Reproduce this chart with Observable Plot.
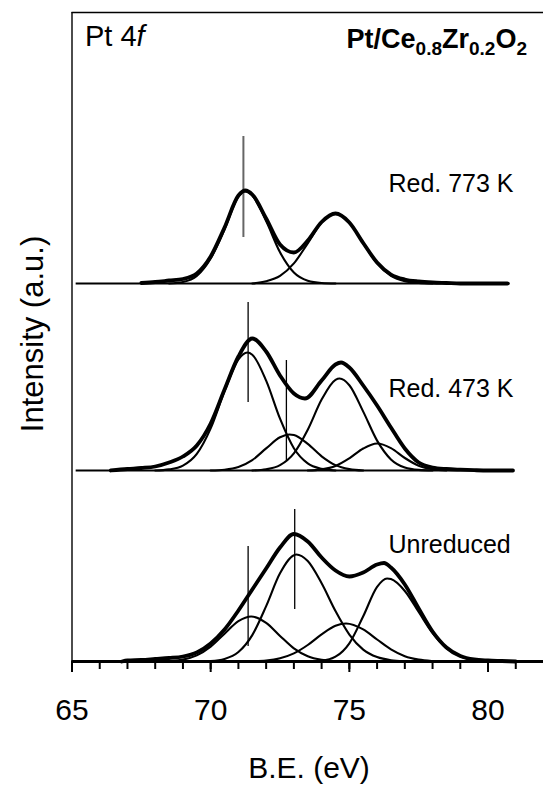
<!DOCTYPE html>
<html>
<head>
<meta charset="utf-8">
<script src="https://cdn.jsdelivr.net/npm/d3@7"></script>
<script src="https://cdn.jsdelivr.net/npm/@observablehq/plot@0.6"></script>
<style>
  html, body { margin: 0; padding: 0; background: #fff; }
  #chart { width: 543px; height: 788px; }
</style>
</head>
<body>
<div id="chart"></div>
<script>
// ---- Data (binding energy in eV, intensity in arbitrary units above each spectrum's baseline) ----
const sampleNames = ["Red. 773 K", "Red. 473 K", "Unreduced"];
const panelOffsets = [378, 191, 0];

// Red. 773 K
const env773 = [[67.5,0.5],[68,1.5],[68.5,3],[69,4.5],[69.5,10],[70,27],[70.5,56],[71,88],[71.25,93],[71.5,89],[72,65],[72.5,39],[73,31],[73.5,43],[74,61.5],[74.5,70],[75,61],[75.5,40.5],[76,21],[76.5,9],[77,4],[77.5,2],[78,1],[78.5,0.5],[79,0],[80.7,0]];
const fit773a = [[68.5,0],[69,1.5],[69.5,7.5],[70,25],[70.5,54],[71,87],[71.25,92],[71.5,88],[72,62.4],[72.5,31.2],[73,11],[73.5,2.8],[74,0.5],[74.5,0]];
const fit773b = [[71.5,0],[72,2.2],[72.5,7.6],[73,20.1],[73.5,40.2],[74,60.9],[74.5,70],[75,60.9],[75.5,40.2],[76,20.1],[76.5,7.6],[77,2.2],[77.5,0.5],[78,0]];

// Red. 473 K
const env473 = [[66.4,0],[67,1.5],[67.5,2.5],[68,4],[68.5,8],[69,14],[69.5,25],[70,47],[70.5,81],[71,114],[71.5,132],[72,119],[72.5,95],[73,77],[73.4,72],[74,90],[74.5,106],[74.7,108],[75,103],[75.5,85],[76,65],[76.5,43],[77,22],[77.5,8],[78,3],[78.5,1.5],[79,0.8],[79.5,0.3],[80,0],[80.9,0]];
const fit473a = [[68,0],[68.5,1.1],[69,4.9],[69.5,16.6],[70,42.1],[70.5,79.3],[71,111],[71.32,118],[71.5,115.8],[72,89.8],[72.5,51.8],[73,22.3],[73.5,7.1],[74,1.7],[74.5,0]];
const fit473b = [[70,0],[70.5,0.8],[71,3.5],[71.5,10.4],[72,22.1],[72.5,33.2],[72.84,36],[73,35.4],[73.5,26.6],[74,14.2],[74.5,5.4],[75,1.4],[75.5,0]];
const fit473c = [[71.5,0],[72,1.2],[72.5,5.3],[73,17.1],[73.5,40.7],[74,70.9],[74.5,90.7],[74.65,92],[75,85.3],[75.5,58.9],[76,29.9],[76.5,11.1],[77,3.0],[77.5,0.6],[78,0]];
const fit473d = [[73.5,0],[74,1.1],[74.5,4.5],[75,12.2],[75.5,22],[76,27],[76.5,22.4],[77,12.5],[77.5,4.8],[78,1.2],[78.5,0]];

// Unreduced
const envUnred = [[66.8,0],[67,1],[67.5,1.5],[68,2.5],[68.5,3.5],[69,5],[69.5,9],[70,18],[70.5,32],[71,51],[71.5,72],[72,93],[72.5,114],[73,127.5],[73.5,120],[74,104],[74.5,91],[75,85],[75.5,89],[76,97],[76.25,98.5],[76.5,94],[77,77],[77.5,53],[78,30],[78.5,14],[79,5.5],[79.5,2],[80,1],[80.5,0.5],[81,0]];
const fitUnredA = [[68,0],[68.5,0.5],[69,1.9],[69.5,6.1],[70,14.8],[70.5,27.8],[71,40.3],[71.46,45],[72,38.7],[72.5,25.6],[73,13.1],[73.5,5.2],[74,1.6],[74.5,0.4],[75,0]];
const fitUnredB = [[69.5,0],[70,0.5],[70.5,2.6],[71,9.5],[71.5,26.4],[72,55.4],[72.5,88.2],[73.09,107],[73.5,100.4],[74,78.2],[74.5,50.4],[75,26.9],[75.5,11.9],[76,4.4],[76.5,1.3],[77,0.3],[77.5,0]];
const fitUnredC = [[71,0],[71.5,0.3],[72,1],[72.5,3.2],[73,8.1],[73.5,16.5],[74,27.1],[74.5,35.7],[74.88,38],[75.5,32.1],[76,22],[76.5,12.1],[77,5.3],[77.5,1.9],[78,0.5],[78.5,0]];
const fitUnredD = [[73.5,0],[74,0.8],[74.5,4.8],[75,18.2],[75.5,45.2],[76,74.6],[76.36,83],[76.5,82.4],[77,70.5],[77.5,49.5],[78,28.4],[78.5,13.4],[79,5.2],[79.5,1.6],[80,0.4],[80.5,0]];

// Reference position markers (intensity above baseline)
const markerPanel = [0, 1, 1, 2, 2];
const markerBE    = [71.18, 71.35, 72.73, 73.03, 71.35];
const markerLow   = [46, 68, 10, 52, 15];
const markerHigh  = [147, 168, 110, 152, 115];

const xTicksMajor = [65, 70, 75, 80];
const xTicksMinor = d3.range(65, 82, 1);

// ---- Build tables ----
function toRows(points, panel, id) {
  return points.map(([e, h]) => ({ e, y: h + panelOffsets[panel], id }));
}
const envelopes = [
  ...toRows(env773, 0, "env773"),
  ...toRows(env473, 1, "env473"),
  ...toRows(envUnred, 2, "envUnred")
];
const fits = [
  ...toRows(fit773a, 0, "a773"), ...toRows(fit773b, 0, "b773"),
  ...toRows(fit473a, 1, "a473"), ...toRows(fit473b, 1, "b473"),
  ...toRows(fit473c, 1, "c473"), ...toRows(fit473d, 1, "d473"),
  ...toRows(fitUnredA, 2, "aU"), ...toRows(fitUnredB, 2, "bU"),
  ...toRows(fitUnredC, 2, "cU"), ...toRows(fitUnredD, 2, "dU")
];
const markers = markerBE.map((e, i) => ({
  e, p: markerPanel[i],
  y1: markerLow[i] + panelOffsets[markerPanel[i]],
  y2: markerHigh[i] + panelOffsets[markerPanel[i]]
}));

const font = "'Liberation Sans', Arial, Helvetica, sans-serif";

const plot = Plot.plot({
  width: 543,
  height: 788,
  marginLeft: 71.5,
  marginRight: 0,
  marginTop: 12,
  marginBottom: 127,
  style: { fontFamily: font, background: "#fff", color: "#000" },
  x: { domain: [65, 82] },
  y: { domain: [0, 649], axis: null },
  marks: [
    // frame (left and top)
    Plot.ruleX([65], { y1: 0, y2: 649, strokeWidth: 1.4, stroke: "#000" }),
    Plot.ruleY([649], { x1: 65, x2: 82, strokeWidth: 1.4, stroke: "#000" }),
    // baselines of upper spectra
    Plot.ruleY(panelOffsets.slice(0, 2), { x1: 65.15, x2: 80.8, strokeWidth: 2, stroke: "#000" }),
    // fitted components
    Plot.line(fits, { x: "e", y: "y", z: "id", curve: "monotone-x", stroke: "#000", strokeWidth: 2.1 }),
    // markers
    Plot.ruleX(markers, { x: "e", y1: "y1", y2: "y2",
      stroke: d => d.p === 0 ? "#666" : "#000",
      strokeWidth: d => d.p === 0 ? 2 : 1.3 }),
    // measured envelopes
    Plot.line(envelopes, { x: "e", y: "y", z: "id", curve: "monotone-x", stroke: "#000", strokeWidth: 3.8 }),
    // x axis
    Plot.ruleY([0], { strokeWidth: 3, stroke: "#000" }),
    Plot.axisX({ ticks: xTicksMinor, tickSize: 8, tickFormat: () => "", strokeWidth: 2, label: null }),
    Plot.axisX({ ticks: xTicksMajor, tickSize: 11, tickPadding: 26, fontSize: 30, strokeWidth: 2, label: null, tickFormat: d => String(d) }),
    // sample labels
    Plot.text([sampleNames[0]], { x: 76.41, y: 470, text: d => d, textAnchor: "start", lineAnchor: "bottom", fontSize: 25, fill: "#000" }),
    Plot.text([sampleNames[1]], { x: 76.41, y: 265, text: d => d, textAnchor: "start", lineAnchor: "bottom", fontSize: 25, fill: "#000" }),
    Plot.text([sampleNames[2]], { x: 76.41, y: 109, text: d => d, textAnchor: "start", lineAnchor: "bottom", fontSize: 25, fill: "#000" })
  ]
});

document.getElementById("chart").appendChild(plot);

// ---- Extra text: titles and axis labels ----
const svg = d3.select(plot);
const g = svg.append("g").attr("font-family", font).attr("fill", "#000");

const t1 = g.append("text").attr("x", 85).attr("y", 46).attr("font-size", 29)
  .attr("text-anchor", "start");
t1.append("tspan").text("Pt 4");
t1.append("tspan").attr("font-style", "italic").text("f");

const t2 = g.append("text").attr("x", 527).attr("y", 48).attr("font-size", 27)
  .attr("font-weight", "bold").attr("text-anchor", "end");
t2.append("tspan").text("Pt/Ce");
t2.append("tspan").attr("font-size", 19).attr("dy", 7).text("0.8");
t2.append("tspan").attr("dy", -7).text("Zr");
t2.append("tspan").attr("font-size", 19).attr("dy", 7).text("0.2");
t2.append("tspan").attr("dy", -7).text("O");
t2.append("tspan").attr("font-size", 19).attr("dy", 7).text("2");

g.append("text").attr("x", 309).attr("y", 778).attr("font-size", 30)
  .attr("text-anchor", "middle").text("B.E. (eV)");

g.append("text").attr("transform", "translate(43,334) rotate(-90)")
  .attr("font-size", 31).attr("text-anchor", "middle").text("Intensity (a.u.)");
</script>
</body>
</html>
